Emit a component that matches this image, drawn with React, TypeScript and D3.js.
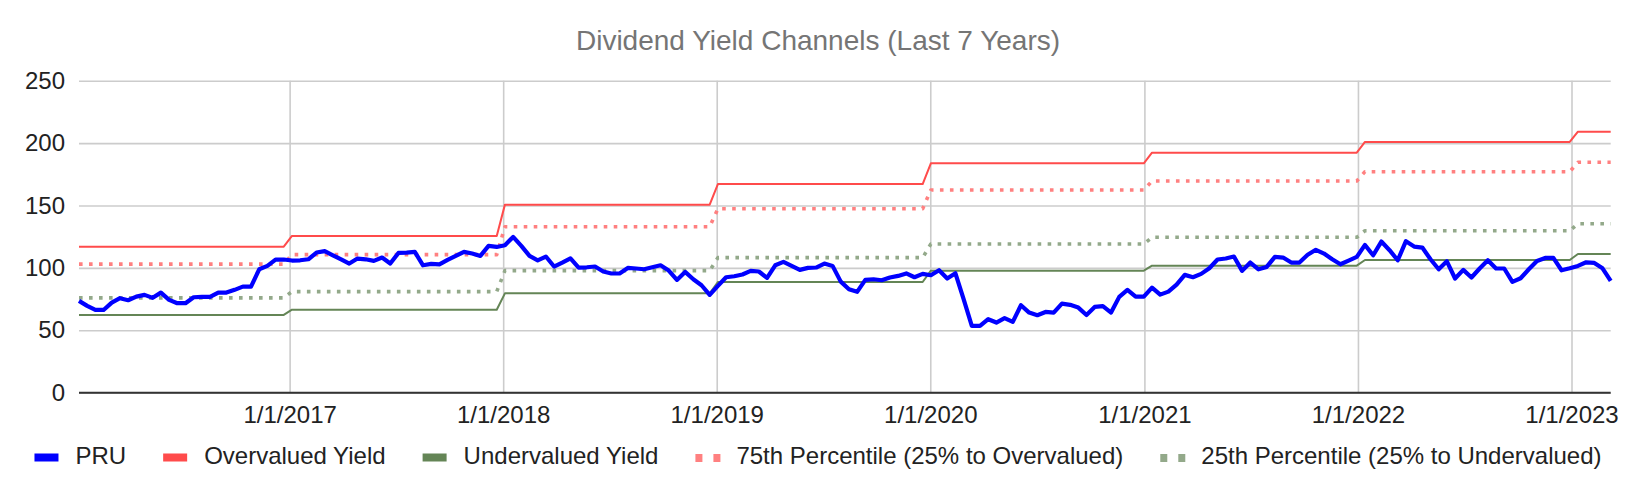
import { useEffect, useRef } from "react";
import * as d3 from "d3";

// chart text
const title = "Dividend Yield Channels (Last 7 Years)";

// PRU dividend yield, one value every 14 days starting 2016-01-07
const startDate = "2016-01-07";
const stepDays = 14;
const pruValues = [
  73.6, 69.6, 66.3, 66.3, 72.2, 75.7, 74.1, 77.0, 78.4, 76.0, 80.2, 74.4, 71.7, 71.7, 76.5, 76.8,
  76.8, 80.2, 80.2, 82.4, 85.0, 85.0, 98.9, 101.6, 106.7, 106.7, 105.9, 106.1, 106.9, 112.3, 113.4, 110.1,
  106.9, 103.5, 107.5, 106.9, 105.6, 108.3, 103.5, 112.0, 112.3, 112.8, 102.1, 103.2, 102.9, 106.4, 109.6, 112.8,
  111.5, 109.6, 117.6, 116.8, 118.2, 124.8, 117.6, 109.6, 106.1, 109.1, 101.1, 104.3, 107.7, 100.3, 100.5, 101.1,
  97.1, 95.5, 95.5, 100.0, 99.5, 98.9, 100.5, 102.1, 97.9, 90.4, 96.8, 90.9, 86.1, 78.4, 85.6, 92.5,
  93.3, 94.7, 97.6, 97.1, 92.0, 102.1, 104.8, 101.6, 98.4, 100.0, 100.3, 103.5, 101.6, 89.0, 82.9, 80.8,
  90.4, 90.9, 90.1, 92.3, 93.6, 95.6, 92.5, 95.2, 94.1, 98.1, 91.5, 95.7, 74.9, 53.5, 53.5, 58.9,
  56.2, 59.7, 56.7, 70.1, 64.2, 62.1, 64.7, 64.2, 71.4, 70.4, 68.2, 62.3, 68.7, 69.3, 64.2, 76.8,
  82.4, 77.0, 77.0, 84.2, 78.6, 81.0, 86.6, 94.4, 92.5, 95.2, 99.7, 106.7, 107.5, 109.1, 97.6, 104.3,
  98.9, 100.8, 108.8, 108.3, 104.3, 104.3, 110.5, 114.5, 111.5, 106.9, 102.9, 105.9, 108.8, 118.4, 110.1, 121.1,
  114.2, 106.1, 121.4, 117.1, 116.3, 106.9, 98.9, 105.3, 91.5, 98.4, 92.3, 99.5, 106.1, 99.5, 99.5, 88.8,
  91.7, 98.9, 105.6, 108.0, 108.0, 98.1, 99.7, 101.6, 104.5, 104.0, 99.7, 89.6,
];

// channel levels, one per calendar year
const channelYears = [2016, 2017, 2018, 2019, 2020, 2021, 2022, 2023];
const overvalued = [117.0, 125.6, 150.7, 167.2, 183.8, 192.3, 200.9, 209.1];
const pct75 = [103.0, 110.6, 133.0, 147.4, 162.4, 169.6, 177.1, 184.6];
const pct25 = [76.0, 81.0, 97.8, 108.2, 119.2, 124.5, 129.8, 135.4];
const undervalued = [62.3, 66.5, 79.6, 88.7, 97.8, 101.8, 106.3, 111.1];

// axis ticks
const yTicks = [0, 50, 100, 150, 200, 250];
const xTickYears = [2017, 2018, 2019, 2020, 2021, 2022, 2023];

const FONT = '"Liberation Sans", Arial, sans-serif';

const App: React.FC = () => {
  const svgRef = useRef<SVGSVGElement>(null);

  useEffect(() => {
    document.body.style.margin = "0";
    const width = 1636;
    const height = 494;
    const left = 79;
    const right = 1610.7;
    const top = 80.7;
    const bottom = 392.7;

    const start = new Date(startDate + "T00:00:00Z");
    const dates = pruValues.map((_, i) => d3.utcDay.offset(start, i * stepDays));

    const channel = (levels: number[]) =>
      dates.map((d) => ({ date: d, value: levels[channelYears.indexOf(d.getUTCFullYear())] }));
    const pru = dates.map((d, i) => ({ date: d, value: pruValues[i] }));

    const x = d3.scaleUtc().domain([dates[0], dates[dates.length - 1]]).range([left, right]);
    const y = d3.scaleLinear().domain([0, 250]).range([bottom, top]);

    const svg = d3.select(svgRef.current);
    svg.selectAll("*").remove();
    svg.attr("width", width).attr("height", height).style("font-family", FONT);

    svg.append("rect").attr("width", width).attr("height", height).attr("fill", "#ffffff");

    // title
    svg.append("text")
      .attr("x", 818)
      .attr("y", 50)
      .attr("text-anchor", "middle")
      .attr("fill", "#757575")
      .style("font-size", "28px")
      .text(title);

    // Y axis + horizontal grid
    const yAxis = svg.append("g")
      .attr("transform", `translate(${left},0)`)
      .call(d3.axisLeft(y).tickValues(yTicks).tickSize(-(right - left)).tickPadding(14));
    yAxis.select(".domain").remove();
    yAxis.selectAll(".tick line").attr("stroke", "#cccccc").attr("stroke-width", 1.6);
    yAxis.selectAll(".tick text")
      .attr("fill", "#222222")
      .style("font-size", "24px")
      .style("font-family", FONT);

    // X axis + vertical grid
    const xTicks = xTickYears.map((yr) => new Date(Date.UTC(yr, 0, 1)));
    const xAxis = svg.append("g")
      .attr("transform", `translate(0,${bottom})`)
      .call(
        d3.axisBottom(x)
          .tickValues(xTicks)
          .tickSize(-(bottom - top))
          .tickFormat((d) => d3.utcFormat("%-m/%-d/%Y")(d as Date))
      );
    xAxis.select(".domain").remove();
    xAxis.selectAll(".tick line").attr("stroke", "#cccccc").attr("stroke-width", 1.6);
    xAxis.selectAll(".tick text")
      .attr("y", 30.5)
      .attr("dy", 0)
      .attr("fill", "#222222")
      .style("font-size", "24px")
      .style("font-family", FONT);

    // baseline
    svg.append("line")
      .attr("x1", left).attr("x2", right)
      .attr("y1", y(0)).attr("y2", y(0))
      .attr("stroke", "#333333").attr("stroke-width", 2);

    const line = d3.line<{ date: Date; value: number }>()
      .x((d) => x(d.date))
      .y((d) => y(d.value));

    const series = [
      { name: "PRU", data: pru, color: "#0000ff", width: 4.2, dotted: false },
      { name: "Overvalued Yield", data: channel(overvalued), color: "#ff4b4b", width: 2, dotted: false },
      { name: "Undervalued Yield", data: channel(undervalued), color: "#648556", width: 2, dotted: false },
      { name: "75th Percentile (25% to Overvalued)", data: channel(pct75), color: "#ff8080", width: 3.6, dotted: true },
      { name: "25th Percentile (25% to Undervalued)", data: channel(pct25), color: "#93a98a", width: 3.6, dotted: true },
    ];

    // draw back to front, PRU on top
    [...series].reverse().forEach((s) => {
      svg.append("path")
        .datum(s.data)
        .attr("fill", "none")
        .attr("stroke", s.color)
        .attr("stroke-width", s.width)
        .attr("stroke-linejoin", "round")
        .attr("stroke-dasharray", s.dotted ? "3.6 6.4" : null)
        .attr("d", line);
    });

    // Legend
    const legend = svg.append("g");
    const items = series.map((s) => {
      const g = legend.append("g");
      if (s.dotted) {
        g.append("rect").attr("x", 0).attr("y", 454).attr("width", 7).attr("height", 8).attr("fill", s.color);
        g.append("rect").attr("x", 18).attr("y", 454).attr("width", 7).attr("height", 8).attr("fill", s.color);
      } else {
        g.append("rect").attr("x", 0).attr("y", 453.5).attr("width", 24).attr("height", 8).attr("fill", s.color);
      }
      const t = g.append("text")
        .attr("x", 41)
        .attr("y", 464)
        .attr("fill", "#222222")
        .style("font-size", "24px")
        .text(s.name);
      const w = 41 + (t.node() as SVGTextElement).getComputedTextLength();
      return { g, w };
    });
    const gap = 37;
    const total = d3.sum(items, (d) => d.w) + gap * (items.length - 1);
    let cx = 818 - total / 2;
    items.forEach((it) => {
      it.g.attr("transform", `translate(${cx},0)`);
      cx += it.w + gap;
    });
  }, []);

  return <svg ref={svgRef} style={{ display: "block" }}></svg>;
};

export default App;
